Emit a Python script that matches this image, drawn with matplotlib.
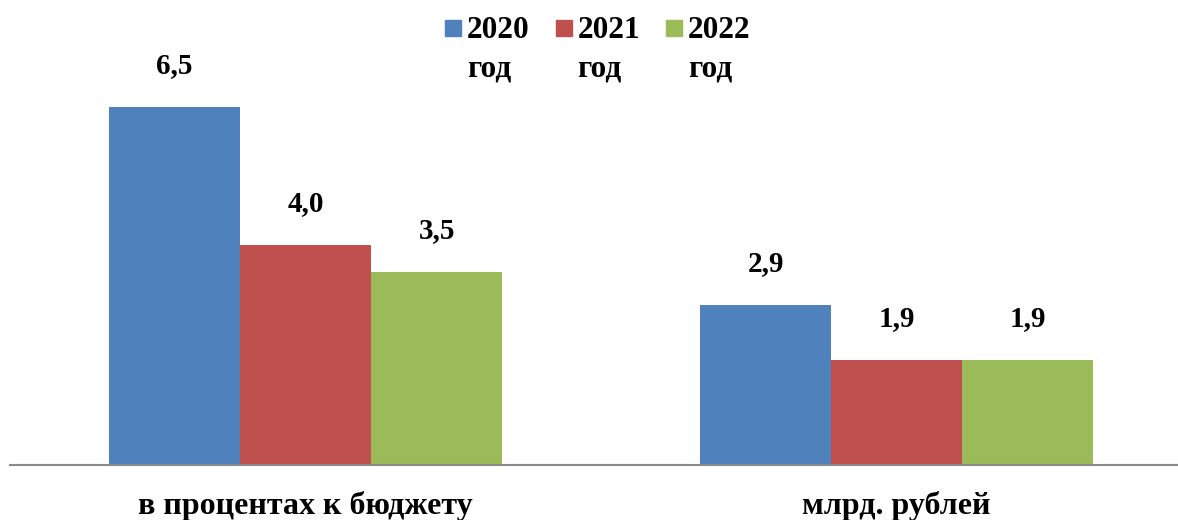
import matplotlib.pyplot as plt
import numpy as np
from matplotlib.patches import Rectangle

# Данные
categories = ['в процентах к бюджету', 'млрд. рублей']
years = ['2020', '2021', '2022']
values_2020 = [6.5, 2.9]
values_2021 = [4.0, 1.9]
values_2022 = [3.5, 1.9]
colors = ['#4F81BD', '#C0504D', '#9BBB59']

plt.rcParams['font.family'] = ['Liberation Serif', 'DejaVu Serif']
plt.rcParams['font.weight'] = 'bold'

fig = plt.figure(figsize=(11.78, 5.2), dpi=100)
ax = fig.add_axes([10 / 1178, 55 / 520, 1168 / 1178, 385.7 / 520])

x = np.arange(len(categories))
width = 0.2217
series = [values_2020, values_2021, values_2022]

for i, (vals, col) in enumerate(zip(series, colors)):
    pos = x + (i - 1) * width
    ax.bar(pos, vals, width=width, color=col, edgecolor='none')
    for px, v in zip(pos, vals):
        ax.annotate(f'{v:.1f}'.replace('.', ','), (px, v),
                    xytext=(0, 24.5), textcoords='offset points',
                    ha='center', va='baseline', fontsize=21, fontweight='bold')

ax.set_xlim(-0.5, 1.476)
ax.set_ylim(0, 7)
ax.set_yticks([])
ax.set_xticks(x)
ax.set_xticklabels(categories, fontsize=23, fontweight='bold')
ax.tick_params(axis='x', length=0, pad=19)
for s in ['top', 'left', 'right']:
    ax.spines[s].set_visible(False)
ax.spines['bottom'].set_color('#898989')
ax.spines['bottom'].set_linewidth(1.5)

# Легенда
for i, (yr, col) in enumerate(zip(years, colors)):
    lx = 445 + i * 110.5
    fig.patches.append(Rectangle((lx / 1178, 1 - 36 / 520), 16 / 1178, 16 / 520,
                                 color=col, transform=fig.transFigure))
    fig.text((lx + 22) / 1178, 1 - 16 / 520, yr + '\nгод', ha='left', va='top',
             fontsize=22.5, fontweight='bold', linespacing=1.45)

fig.savefig('out.png', dpi=100)
